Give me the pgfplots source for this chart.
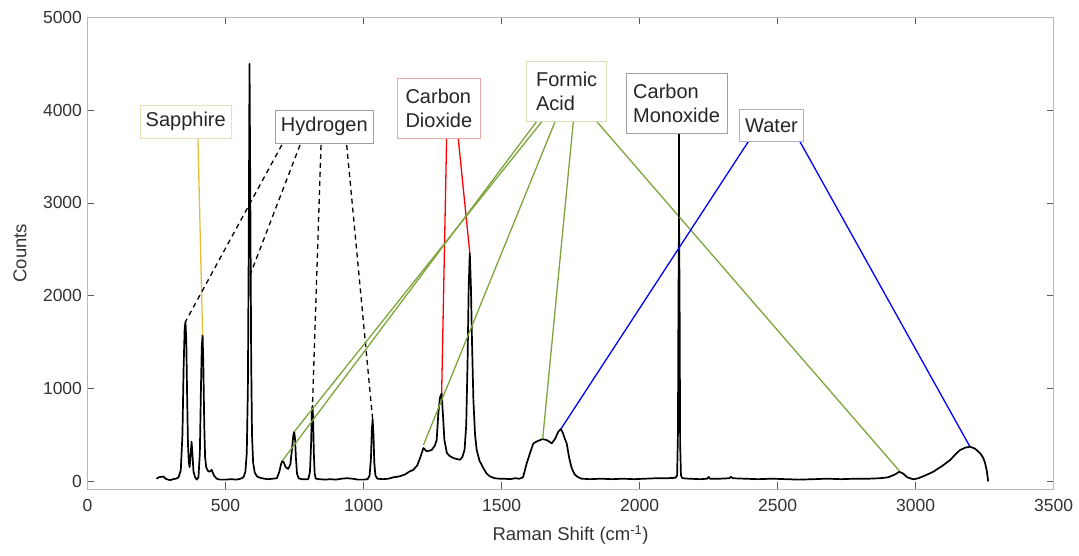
\documentclass[border=0pt]{standalone}
\usepackage{pgfplots}
\pgfplotsset{compat=1.18}
\usepackage{fontspec}
\setmainfont{Liberation Sans}
\definecolor{sapph}{RGB}{230,190,60}
\definecolor{sapphbox}{RGB}{235,225,185}
\definecolor{formic}{RGB}{125,165,60}
\definecolor{formicbox}{RGB}{215,225,185}
\definecolor{co2box}{RGB}{235,170,170}
\definecolor{waterbox}{RGB}{175,175,205}
\definecolor{h2box}{RGB}{160,160,160}
\begin{document}
\begin{tikzpicture}
\useasboundingbox (0,0) rectangle (1079pt,556pt);
\begin{axis}[
  at={(87.5pt,67pt)}, anchor=south west,
  scale only axis, width=966.1pt, height=471.5pt,
  xmin=0, xmax=3500, ymin=-86, ymax=5000,
  xtick={0,500,...,3500}, ytick={0,1000,...,5000},
  clip=false,
  axis line style={gray!55},
  tick style={gray!70!black, line width=0.6pt},
  major tick length=7pt,
  tick align=inside,
  /pgf/number format/assume math mode=true,
  /pgf/number format/1000 sep={},
  ticklabel style={font=\fontsize{17.5}{20}\selectfont, text=black!80},
  xticklabel style={yshift=-7pt},
  yticklabel style={xshift=-2pt},
  xlabel={Raman Shift (cm\textsuperscript{-1})},
  ylabel={Counts},
  label style={font=\fontsize{18.5}{22}\selectfont, text=black!80},
  xlabel style={at={(axis description cs:0.5,0)}, anchor=north, yshift=-33pt},
  ylabel style={at={(axis description cs:0,0.5)}, anchor=center, rotate=0, yshift=67.5pt},
]
\addplot[black, line width=1.7pt, line join=round] coordinates {
(250,25)(258,40)(266,45)(275,48)(283,25)(292,15)(300,10)(310,20)(320,25)(330,40)
(338,120)(344,500)(348,1200)(352,1650)(355,1719)(358,1500)(361,900)(364,400)(367,200)(370,150)
(374,300)(377,424)(380,300)(384,100)(390,40)(396,15)(402,40)(407,300)(411,1000)(414,1450)
(417,1575)(420,1200)(423,600)(426,260)(430,150)(436,110)(442,100)(450,120)(458,60)(468,25)
(480,15)(500,15)(520,20)(540,15)(555,25)(565,40)(572,100)(577,300)(581,1000)(584,2500)
(587,4500)(590,3000)(593,1300)(596,500)(600,200)(606,90)(614,50)(625,35)(640,25)(655,20)
(670,25)(686,30)(695,100)(701,180)(706,219)(711,200)(718,150)(727,130)(735,180)(741,350)
(746,500)(749,532)(752,450)(755,250)(759,80)(765,30)(775,20)(790,20)(800,20)(806,100)
(810,400)(813,750)(815,809)(817,700)(820,300)(823,80)(827,25)(840,20)(860,15)(880,20)
(900,15)(920,25)(940,30)(960,25)(980,15)(1000,15)(1015,20)(1022,60)(1027,250)(1030,550)
(1033,665)(1036,500)(1039,200)(1043,60)(1050,25)(1070,20)(1090,25)(1108,40)(1130,50)(1150,70)
(1165,100)(1180,120)(1195,170)(1205,250)(1217,356)(1229,320)(1247,335)(1258,380)(1265,442)(1271,730)
(1277,900)(1283,946)(1288,700)(1293,442)(1302,302)(1312,270)(1325,248)(1340,235)(1350,230)(1358,260)
(1366,335)(1372,600)(1377,1300)(1381,2100)(1385,2460)(1389,2100)(1393,1500)(1398,874)(1404,500)(1410,335)
(1420,220)(1434,140)(1446,80)(1458,50)(1475,30)(1494,25)(1510,25)(1530,20)(1550,30)(1565,25)
(1578,40)(1591,190)(1603,300)(1615,406)(1630,430)(1649,453)(1665,440)(1682,406)(1695,460)(1705,530)
(1715,561)(1722,520)(1730,450)(1736,406)(1745,250)(1754,140)(1765,70)(1778,40)(1790,25)(1820,20)
(1860,25)(1900,20)(1940,25)(1980,20)(2020,25)(2060,30)(2100,30)(2130,35)(2136,60)(2139,500)
(2141,2000)(2143,2850)(2145,2000)(2147,400)(2150,60)(2155,30)(2180,25)(2220,20)(2245,25)(2250,45)
(2255,25)(2290,25)(2325,30)(2331,45)(2338,30)(2380,25)(2430,20)(2480,25)(2530,20)(2580,15)
(2630,20)(2680,25)(2730,20)(2780,25)(2830,25)(2870,30)(2900,40)(2925,70)(2941,100)(2955,80)
(2970,40)(2992,18)(3010,30)(3035,60)(3064,100)(3095,160)(3125,226)(3145,290)(3161,334)(3180,360)
(3197,370)(3215,350)(3234,299)(3245,250)(3252,191)(3258,110)(3263,-5)
};
% Sapphire
\addplot[sapph, line width=1.3pt] coordinates {(400,3698)(417,1575)};
% Hydrogen
\addplot[black, line width=1.3pt, dash pattern=on 5pt off 4pt] coordinates {(704,3625)(355,1719)};
\addplot[black, line width=1.3pt, dash pattern=on 5pt off 4pt] coordinates {(770,3625)(589,2223)};
\addplot[black, line width=1.3pt, dash pattern=on 5pt off 4pt] coordinates {(846,3625)(815,809)};
\addplot[black, line width=1.3pt, dash pattern=on 5pt off 4pt] coordinates {(939,3625)(1033,665)};
% Carbon dioxide
\addplot[red, line width=1.3pt] coordinates {(1301,3698)(1283,946)};
\addplot[red, line width=1.3pt] coordinates {(1343,3698)(1385,2460)};
% Formic acid
\addplot[formic, line width=1.3pt] coordinates {(1627,3877)(706,219)};
\addplot[formic, line width=1.3pt] coordinates {(1646,3877)(749,532)};
\addplot[formic, line width=1.3pt] coordinates {(1694,3877)(1217,388)};
\addplot[formic, line width=1.3pt] coordinates {(1760,3877)(1649,453)};
\addplot[formic, line width=1.3pt] coordinates {(1845,3877)(2941,110)};
% Carbon monoxide
\addplot[black, line width=1.3pt] coordinates {(2143,3752)(2143,2850)};
% Water
\addplot[blue, line width=1.3pt] coordinates {(2394,3661)(1715,561)};
\addplot[blue, line width=1.3pt] coordinates {(2581,3661)(3197,370)};
% labels
\tikzset{lab/.style={font=\fontsize{20}{24}\selectfont, text=black!85, fill=white, line width=0.8pt, inner sep=0pt, align=left}}
\node[lab, draw=sapphbox, minimum width=91.7pt, minimum height=33.3pt] at (axis cs:356,3877) {Sapphire};
\node[lab, draw=h2box, minimum width=97.6pt, minimum height=33.3pt] at (axis cs:858,3823) {Hydrogen};
\node[lab, draw=co2box, minimum width=83.4pt, minimum height=60pt] at (axis cs:1273,4021) {Carbon\\Dioxide};
\node[lab, draw=formicbox, minimum width=80pt, minimum height=60pt] at (axis cs:1736,4201) {Formic\\Acid};
\node[lab, draw=h2box, minimum width=100.7pt, minimum height=60pt] at (axis cs:2134,4075) {Carbon\\Monoxide};
\node[lab, draw=waterbox, minimum width=63.3pt, minimum height=32.4pt] at (axis cs:2478,3836) {Water};
\end{axis}
\end{tikzpicture}
\end{document}
